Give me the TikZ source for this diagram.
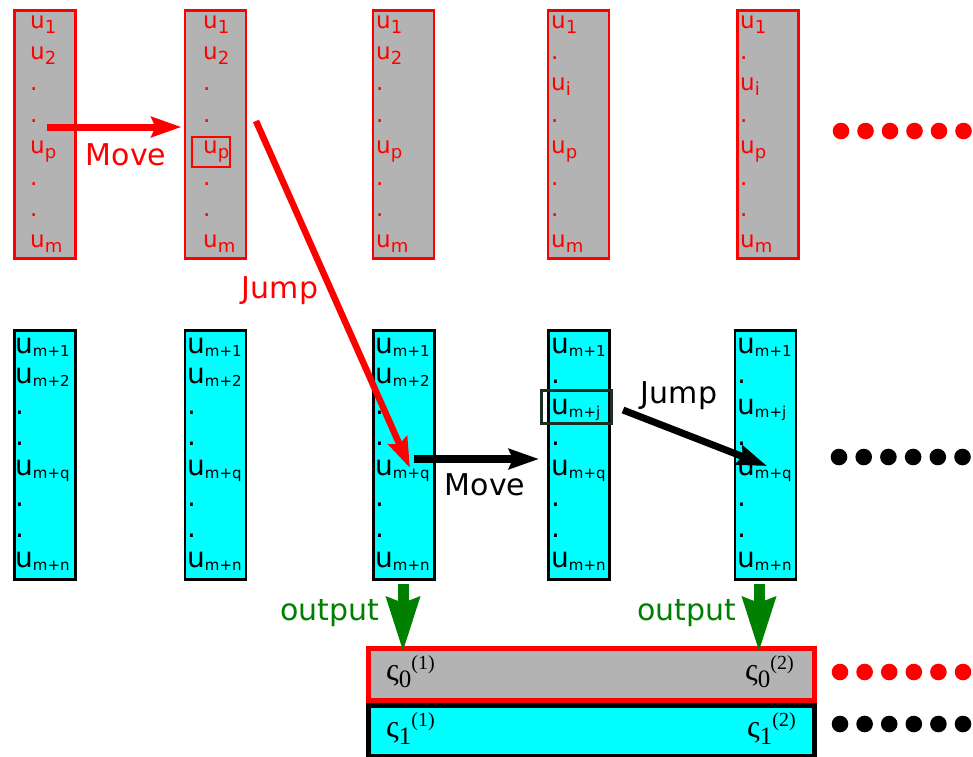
\documentclass[tikz,border=0pt]{standalone}
\usepackage{fontspec}
\setmainfont{DejaVu Sans}
\newfontfamily\sigmafont{Liberation Serif}
\usetikzlibrary{arrows.meta}
\definecolor{boxgray}{HTML}{B3B3B3}
\definecolor{boxcyan}{HTML}{00FFFF}
\definecolor{outgreen}{HTML}{008000}
\definecolor{markdark}{HTML}{1B2E22}
\newcommand{\ut}[1]{u\raisebox{-5pt}{\fontsize{18}{18}\selectfont #1}}
\newcommand{\ub}[1]{u\raisebox{-3pt}{\fontsize{15}{15}\selectfont #1}}
\newcommand{\vsig}[2]{{\fontsize{32}{32}\selectfont ς}\raisebox{-7pt}{\fontsize{25}{25}\selectfont #1}\raisebox{11pt}{\fontsize{20}{20}\selectfont (#2)}}

\begin{document}
\begin{tikzpicture}[x=1pt, y=-1pt, >=Stealth]
	\tikzset{upbox/.style={draw=red, fill=boxgray, line width=2.5pt, minimum width=61pt, minimum height=248pt, anchor=north west, inner sep=0pt},
		lowbox/.style={draw=black, fill=boxcyan, line width=2.5pt, minimum width=61pt, minimum height=249pt, anchor=north west, inner sep=0pt},
		uptext/.style={text=red, font=\fontsize{23}{23}\selectfont, anchor=base west, inner sep=0pt},
		lowtext/.style={text=black, font=\fontsize{28}{28}\selectfont, anchor=base west, inner sep=0pt},
		lbl/.style={font=\fontsize{30}{30}\selectfont, anchor=base, inner sep=0pt},
		fatarrow/.style={line width=#1, -{Stealth[length=30pt, width=20pt, inset=4pt]}},
		outarrow/.style={draw=outgreen, line width=11pt, -{Stealth[length=54pt, width=32pt, inset=5pt]}},
		bar/.style={line width=5pt, minimum width=446pt, anchor=north west, inner sep=0pt},
		sig/.style={font=\sigmafont, anchor=base west, inner sep=0pt}}
	\useasboundingbox (0,0) rectangle (973,756);
	% columns
	\foreach \n/\x in {1/13, 2/183.5, 3/371.5, 4/546.5, 5/736}
		\node[upbox] (up\n) at (\x,9) {};
	\foreach \n/\x in {1/13, 2/183.5, 3/372, 4/547, 5/733.5}
		\node[lowbox] (low\n) at (\x,329) {};
	% entries
	\foreach \n/\x in {1/30, 2/203, 3/376}
		\foreach \t [count=\i] in {{\ut{1}}, {\ut{2}}, {.}, {.}, {\ut{p}}, {.}, {.}, {\ut{m}}}
			\node[uptext] (u\n-\i) at (\x,{28+31.4*(\i-1)}) {\t};
	\foreach \n/\x in {4/551, 5/740}
		\foreach \t [count=\i] in {{\ut{1}}, {.}, {\ut{i}}, {.}, {\ut{p}}, {.}, {.}, {\ut{m}}}
			\node[uptext] (u\n-\i) at (\x,{28+31.4*(\i-1)}) {\t};
	\foreach \n/\x in {1/15, 2/187, 3/375}
		\foreach \t [count=\i] in {{\ub{m+1}}, {\ub{m+2}}, {.}, {.}, {\ub{m+q}}, {.}, {.}, {\ub{m+n}}}
			\node[lowtext] (v\n-\i) at (\x,{353+30.7*(\i-1)}) {\t};
	\foreach \n/\x in {4/551, 5/737}
		\foreach \t [count=\i] in {{\ub{m+1}}, {.}, {\ub{m+j}}, {.}, {\ub{m+q}}, {.}, {.}, {\ub{m+n}}}
			\node[lowtext] (v\n-\i) at (\x,{353+30.7*(\i-1)}) {\t};
	\node[draw=red, line width=2pt, minimum width=38pt, minimum height=30pt, inner sep=0pt] (pmark) at (211,152) {};
	\node[draw=markdark, line width=3pt, minimum width=70pt, minimum height=33pt, inner sep=0pt] (jmark) at (576.5,407) {};
	% result rows
	\node[bar, draw=red, fill=boxgray, minimum height=52pt] (row0) at (365.5,645.5) {};
	\node[bar, draw=black, fill=boxcyan, minimum height=51pt] (row1) at (365.5,702.5) {};
	\node[sig] (s01) at (386,680) {\vsig{0}{1}};
	\node[sig] (s02) at (745,680) {\vsig{0}{2}};
	\node[sig] (s11) at (386,737) {\vsig{1}{1}};
	\node[sig] (s12) at (747,737) {\vsig{1}{2}};
	% moves and jumps
	\coordinate (mvfrom) at (47,127);
	\draw[fatarrow=7pt, red] (mvfrom) -- ([xshift=-2pt]up2.west |- mvfrom);
	\node[lbl, red] (mvlbl) at (126,165) {Move};
	\coordinate (jpfrom) at (256,121);
	\coordinate (jpto) at (410,468);
	\draw[fatarrow=6.5pt, red] (jpfrom) -- (jpto);
	\node[lbl, red] (jplbl) at (280,298) {Jump};
	\coordinate (mvfromb) at (414,459);
	\draw[fatarrow=8pt] (mvfromb) -- ([xshift=-8pt]low4.west |- mvfromb);
	\node[lbl] (mvlblb) at (485,495) {Move};
	\coordinate (jpfromb) at (623,410);
	\coordinate (jptob) at (767,466);
	\draw[fatarrow=7pt] (jpfromb) -- (jptob);
	\node[lbl] (jplblb) at (679,403) {Jump};
	% output
	\coordinate (outa) at (403,584);
	\coordinate (outb) at (759,584);
	\draw[outarrow] (outa) -- ([yshift=-6.5pt]row0.north -| outa);
	\draw[outarrow] (outb) -- ([yshift=-6.5pt]row0.north -| outb);
	\node[lbl, outgreen] (outlbla) at (330,620) {output};
	\node[lbl, outgreen] (outlblb) at (687,620) {output};
	% more to come
	\foreach \i in {0,...,5} {
		\fill[red] (841+24.5*\i,131) circle (8.3pt);
		\fill (839+24.7*\i,457) circle (8.3pt);
		\fill[red] (840+24.6*\i,672) circle (8.3pt);
		\fill (840+24.6*\i,724) circle (8.3pt);
	}
\end{tikzpicture}
\end{document}
